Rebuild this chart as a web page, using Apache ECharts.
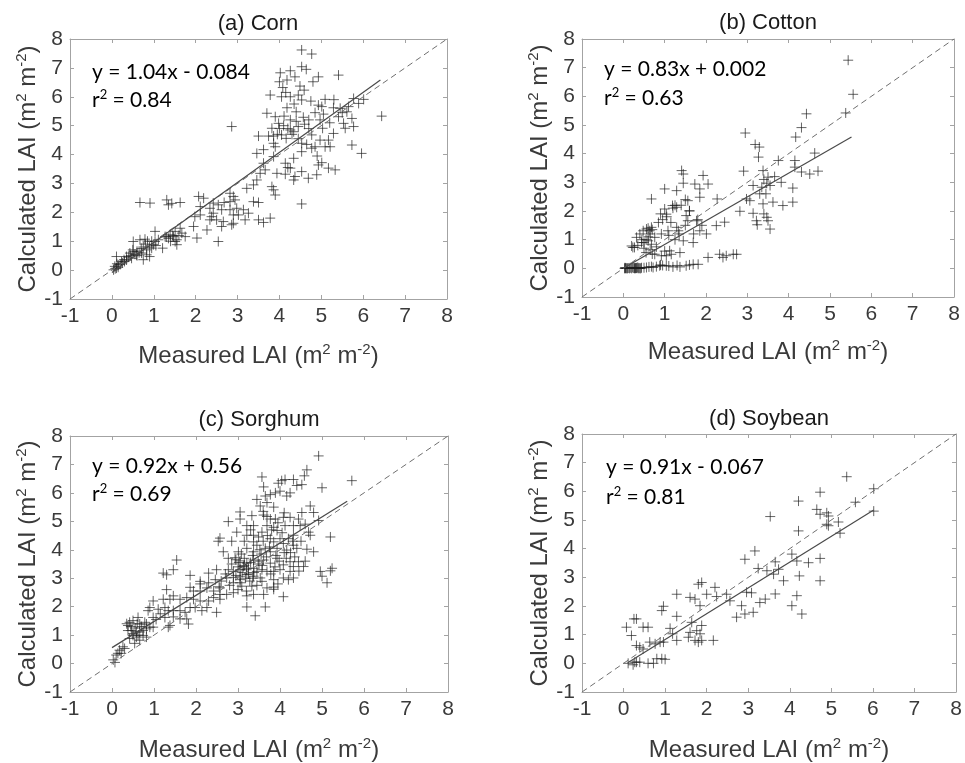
<!DOCTYPE html>
<html>
<head>
<meta charset="utf-8">
<script src="https://cdn.jsdelivr.net/npm/echarts/dist/echarts.min.js"></script>
<style>html,body{margin:0;padding:0;background:#fff;}#c{width:965px;height:763px;}</style>
</head>
<body>
<div id="c"></div>
<script>
// ---------- data ----------
const axisTicks = [-1, 0, 1, 2, 3, 4, 5, 6, 7, 8];
const panelTitles = ['(a) Corn', '(b) Cotton', '(c) Sorghum', '(d) Soybean'];
const equations = ['y = 1.04x - 0.084', 'y = 0.83x + 0.002', 'y = 0.92x + 0.56', 'y = 0.91x - 0.067'];
const rSquared = ['0.84', '0.63', '0.69', '0.81'];
const oneToOne = [[-1, -1], [8, 8]];

const cornPoints = [
[4.53,7.62],[4.77,7.48],[5.41,6.75],[4.02,6.83],[4.26,6.9],[4.53,7.04],[4.64,6.95],
[4.18,6.58],[4.0,6.52],[4.37,6.69],[4.93,6.69],[4.8,6.52],[4.08,6.32],[4.49,6.37],[4.59,6.23],
[3.78,6.06],[4.05,6.0],[4.26,6.0],[4.45,6.06],[4.53,5.89],[5.09,5.91],[5.77,5.94],[6.01,5.91],
[4.18,5.62],[4.93,5.71],[5.01,5.66],[5.29,5.62],[5.45,5.6],[5.65,5.66],[5.89,5.77],
[4.4,5.48],[4.57,5.29],[4.7,5.2],[3.9,5.31],[4.11,5.33],[4.26,5.2],[6.44,5.33],
[3.7,5.43],[3.98,5.08],[4.45,4.97],[2.86,4.97],[5.41,5.31],[5.61,5.48],[5.73,5.25],[5.77,4.97],
[4.97,5.2],[5.03,4.91],[3.82,4.91],[3.86,4.64],[4.05,4.68],[4.16,4.56],[4.26,4.85],[4.34,4.79],
[3.5,4.64],[3.74,4.64],[3.86,4.39],[3.9,4.27],[4.77,4.68],[4.97,4.5],[5.29,4.73],[5.17,4.5],[5.57,4.91],[5.53,5.08],
[4.53,4.39],[4.85,4.27],[5.09,4.27],[5.21,4.27],[3.46,4.04],[3.62,4.17],[3.86,3.93],[5.73,4.33],[5.96,4.04],
[4.53,4.1],[4.77,4.22],[4.14,3.7],[4.34,3.87],[3.62,3.7],[3.66,3.47],[4.93,3.64],[5.01,3.72],[5.17,3.53],[5.33,3.47],
[3.94,3.35],[4.14,3.32],[4.26,3.53],[4.34,3.12],[4.37,3.24],[4.53,3.41],[4.69,3.18],[4.89,3.3],
[3.46,3.12],[3.54,3.35],[3.38,2.95],[3.22,2.83],[3.82,2.89],[3.86,2.78],[3.9,2.6],
[2.82,2.66],[2.9,2.55],[2.94,2.43],[2.82,2.37],[2.68,2.34],[3.38,2.37],[3.5,2.34],[4.53,2.29],
[2.07,2.55],[2.19,2.49],[2.11,2.2],[2.42,2.32],[2.54,2.26],[2.34,2.14],[2.42,1.97],
[2.62,2.09],[2.82,2.09],[2.98,2.14],[3.14,2.09],[2.9,1.91],[3.02,1.91],[3.26,1.97],
[1.98,1.85],[2.11,1.91],[2.38,1.85],[2.34,1.74],[2.5,1.74],[2.66,1.68],[2.62,1.51],
[2.86,1.57],[2.9,1.62],[3.18,1.74],[3.5,1.74],[3.62,1.65],[3.78,1.8],
[1.95,1.51],[2.03,1.11],[2.27,1.39],[2.54,0.99],[1.63,1.45],[1.75,1.16],[1.67,1.28],
[1.31,2.43],[1.35,2.26],[1.43,2.31],[1.63,2.34],[0.67,2.34],[0.91,2.32],
[1.03,1.34],[1.27,1.16],[1.39,1.22],[1.47,1.16],[1.51,0.99],[1.55,0.88],[1.51,1.34],
[1.11,1.05],[1.21,0.76],[0.99,0.88],[1.03,0.99],[0.95,0.76],[0.83,0.7],
[0.51,0.99],[0.67,1.05],[0.79,1.07],[0.75,0.36],[0.71,0.59],[0.59,0.53],[0.43,0.59],[0.35,0.47],[0.47,0.41],[0.51,0.65],
[0.11,0.47],[0.23,0.3],[0.15,0.18],[0.07,0.13],[0.04,0.01],[0.11,0.07],[0.29,0.36],[0.83,0.53],[0.9,0.47],
[0.3,0.3],[0.4,0.45],[0.45,0.5],[0.55,0.55],[0.6,0.65],[0.65,0.6],[0.5,0.7],[0.35,0.35],[0.25,0.25],[0.2,0.2],[0.15,0.1],[0.08,0.05],[0.12,0.22],[0.6,0.5],[0.7,0.75],[0.75,0.8],[0.8,0.9],[0.9,0.8],[0.95,1.0],[1.05,0.85],[0.85,1.0],
[1.35,1.1],[1.45,1.2],[1.55,1.05],[1.4,1.0],[1.3,1.15],[1.6,1.2],
[4.1,5.0],[4.2,4.9],[4.3,4.7],[4.4,5.15],[4.6,5.05],[4.7,4.9],[4.85,5.45],[5.05,5.4],[5.2,5.1],[4.45,4.55],[4.65,4.35],[4.0,4.9],[3.95,4.7],[4.35,5.75],[4.75,5.85],[4.15,6.15],[5.3,5.9],[5.5,5.45],[4.9,3.95],[4.2,3.55]
];
const cornFit = [[0, -0.084], [6.41, 6.58]];

const cottonPoints = [
[5.44,7.26],[5.56,6.07],[5.38,5.42],[4.43,5.39],[4.31,4.91],[4.17,4.58],[2.95,4.72],
[3.19,4.32],[3.29,4.23],[3.27,3.88],[4.63,4.02],[4.15,3.76],[4.15,3.53],[4.31,3.36],[4.51,3.29],[4.71,3.39],
[3.75,3.76],[3.38,3.41],[3.5,3.18],[3.66,3.2],[3.82,3.0],[2.91,3.39],[3.14,2.89],[3.35,2.83],[3.47,2.97],[3.55,2.89],
[3.3,2.6],[3.38,2.25],[3.62,2.31],[3.86,2.19],[4.1,2.31],[4.1,2.8],[2.82,1.99],[3.14,1.92],[3.22,1.66],[3.24,1.52],[3.47,1.78],[3.5,1.66],[3.55,1.37],
[2.98,2.42],[3.06,2.36],[3.4,3.1],[3.45,2.6],[3.4,1.9],
[1.0,2.07],[1.04,1.89],[1.0,2.77],[1.29,2.71],[1.41,3.41],[1.45,3.29],[1.45,2.97],[1.29,2.13],[1.19,2.19],
[1.73,2.94],[1.85,2.77],[1.85,2.48],[1.93,3.24],[2.05,2.94],[0.68,2.42],[1.56,2.36],[1.6,2.01],[1.52,1.84],[1.56,1.66],
[2.27,2.42],[2.45,1.61],[2.25,1.49],[2.01,1.2],[1.77,1.66],[1.85,1.31],[1.69,0.9],[1.45,0.96],
[1.29,1.43],[1.33,1.31],[1.08,1.31],[0.92,1.2],[0.48,1.31],[0.56,1.37],[0.64,1.31],[0.68,1.43],[0.32,1.08],[0.44,0.9],[0.23,0.73],[0.6,0.96],[0.68,0.84],[0.76,1.08],
[0.76,0.49],[0.92,0.44],[1.04,0.44],[1.16,0.49],[1.12,0.61],[1.37,0.55],
[2.05,0.38],[2.33,0.49],[2.49,0.44],[2.66,0.49],[2.74,0.49],[2.41,0.38],
[0.05,0],[0.15,0],[0.27,0],[0.4,0],[0.56,0.03],[0.72,0.03],[0.88,0.09],[1.04,0.09],[1.2,0.05],[1.37,0.05],[1.52,0.09],[1.69,0.14],[1.81,0.14],
[0.03,0],[0.06,0.01],[0.1,0],[0.2,0],[0.25,0.01],[0.3,0],[0.33,0.02],[0.36,0],[0.44,0.02],[0.22,0.03],[0.5,0.02],[0.62,0.05],[0.8,0.06],[0.95,0.1],[1.1,0.08],[1.3,0.1],[1.6,0.12],[0.68,0.06],[0.9,0.12],
[0.04,0.02],[0.08,0],[0.12,0.01],[0.17,0.02],[0.28,0.02],[0.32,0.01],[0.35,0.03],[0.38,0.01],[0.42,0],[0.29,0.01],
[0.2,0.78],[0.27,0.73],[0.35,0.8],[0.5,0.9],[0.55,1.0],[0.6,1.1],[0.65,1.2],[0.7,1.35],[0.6,1.4],[0.65,0.65],[0.7,0.5],[0.55,0.55],[0.85,1.6],[0.95,1.7],[1.05,1.8],[0.9,1.9],[1.15,1.6],[1.2,2.1],[1.25,2.2],[1.35,1.2],[1.25,1.0],[1.1,1.15],[1.4,2.2],[1.5,2.4],[1.6,2.0],[1.8,1.7],[1.9,1.5],[1.7,1.2],[1.5,1.5],[1.0,0.6],[0.8,0.75],[0.4,1.2],[0.45,1.0],[0.5,0.7]
];
const cottonFit = [[0, 0.002], [5.52, 4.58]];

const sorghumPoints = [
[4.92,7.3],[5.71,6.43],[5.0,6.18],[3.57,6.56],[3.61,6.21],
[4.32,6.47],[4.4,6.26],[4.52,6.29],[4.58,6.6],[4.64,6.81],[4.04,6.43],[4.12,6.47],[3.96,6.34],
[3.77,5.94],[3.89,6.0],[4.0,6.06],[4.24,6.0],[4.16,5.89],[3.45,5.77],[3.65,5.89],[3.69,5.66],[3.53,5.54],
[4.72,5.54],[4.8,5.31],[4.52,5.31],
[3.05,5.33],[3.33,5.2],[3.61,5.22],[3.69,5.17],[3.77,5.08],[3.89,5.08],[4.08,5.14],[4.24,5.14],[4.44,5.08],[4.92,5.03],
[2.77,4.99],[3.05,5.08],[3.21,4.85],[3.37,4.85],
[2.57,4.41],[2.53,4.3],[2.85,4.3],[2.97,4.62],[3.21,4.51],[3.37,4.51],[3.49,4.45],[3.57,4.62],[3.69,4.85],[3.85,4.79],[3.93,4.68],
[4.12,4.85],[4.32,4.85],[4.48,4.85],[4.68,4.62],[4.72,4.51],[4.32,4.51],[4.2,4.39],[5.2,4.45],
[3.77,4.39],[3.85,4.28],[4.0,4.39],[4.08,4.22],[3.37,4.28],
[2.65,3.93],[2.93,3.72],[3.01,3.93],[3.21,4.05],[3.37,3.93],[3.45,4.16],[3.65,4.05],[3.77,3.93],[3.93,4.05],[4.16,3.99],[4.32,4.16],[4.4,4.05],[4.64,4.02],[4.8,3.93],
[2.77,3.7],[3.05,3.61],[3.21,3.53],[3.37,3.64],[3.61,3.64],[3.77,3.53],[3.93,3.7],[4.08,3.47],[4.24,3.58],[4.32,3.41],[4.44,3.58],[4.56,3.41],[4.24,3.24],
[2.49,3.3],[2.77,3.3],[2.89,3.24],[3.05,3.3],[3.13,3.41],[3.25,3.35],[3.37,3.35],[3.45,3.24],[3.57,3.3],[3.69,3.24],[3.85,3.24],[4.0,3.3],[4.08,3.01],
[4.96,3.24],[5.0,3.07],[5.2,3.26],[5.24,3.35],[5.12,2.84],
[2.73,3.01],[2.89,3.03],[3.05,3.07],[3.21,3.13],[3.37,3.07],[3.53,3.01],[3.85,2.95],[4.32,3.01],
[3.05,2.84],[3.09,2.72],[3.33,2.72],[3.57,2.89],[3.69,2.66],[3.85,2.61],[2.89,2.84],
[3.21,2.38],[3.37,2.43],[3.61,2.43],[3.85,2.69],[4.08,2.35],[3.65,1.99],[3.21,1.99],[3.41,1.68],
[2.3,3.18],[2.46,2.95],[2.3,2.84],[2.1,2.89],[1.86,3.1],[2.1,2.8],
[1.54,3.64],[1.46,3.3],[1.22,3.18],[1.3,3.12],
[1.86,2.68],[1.94,2.55],[2.1,2.55],[2.26,2.66],[2.42,2.55],[2.57,2.66],[2.57,2.43],[2.73,2.43],[2.89,2.49],
[1.3,2.6],[1.46,2.38],[1.38,2.26],
[1.62,2.26],[1.78,2.32],[1.94,2.26],[2.1,2.2],[2.3,2.2],[2.42,2.32],[2.57,2.26],[2.49,1.8],[2.26,1.97],[2.14,1.86],[1.98,1.97],[1.86,1.97],[1.82,1.39],
[0.98,2.2],[1.22,2.26],[1.26,1.97],[1.1,1.91],[0.9,1.97],[0.86,1.86],
[1.34,1.86],[1.46,1.86],[1.62,1.86],[1.74,1.8],[1.26,1.62],[1.46,1.64],[1.62,1.57],[1.78,1.57],[1.38,1.34],[1.34,1.28],
[0.98,1.62],[0.82,1.39],[0.66,1.39],[0.62,1.62],[0.5,1.51],[0.42,1.45],[0.38,1.34],[0.38,1.16],[0.46,1.16],[0.58,1.11],[0.66,1.11],[0.74,1.16],[0.82,1.22],[0.9,1.28],[0.98,1.28],
[0.5,0.99],[0.58,0.93],[0.66,0.82],[0.54,0.71],[0.42,0.88],[0.74,0.99],[0.82,0.93],
[0.26,0.59],[0.18,0.47],[0.14,0.36],[0.1,0.3],[0.22,0.36],[0.3,0.53],[0.03,0.13],[0.07,0.04],
[0.45,1.3],[0.55,1.25],[0.6,1.4],[0.7,1.3],[0.5,1.05],[0.62,1.0],[0.35,1.4],[0.78,1.45],[1.05,1.55],[1.15,1.75],
[3.1,3.2],[3.15,3.45],[3.2,3.3],[3.25,3.15],[3.0,3.4],[3.3,3.55],[3.05,2.95],[2.95,3.1],[3.35,3.0],[3.5,3.5],[3.9,3.8],[4.1,3.9],[4.3,4.3],[3.75,4.1],[4.05,4.6],[3.55,3.85],[3.15,3.7],
[2.85,3.5],[2.95,3.65],[3.08,3.85],[3.18,3.0],[3.28,2.9],[3.38,3.2],[3.48,3.6],[3.58,3.45],[3.68,3.75],[3.78,3.15],[3.88,3.4],[3.98,3.6],[4.15,3.7],[4.25,3.9],[4.35,3.75],[3.6,4.3],[3.7,4.5],[3.8,4.7],[3.95,4.95],[4.1,5.3],[3.85,5.5],[3.6,5.35],[3.3,4.7],[3.15,4.3],[2.8,2.75],[2.6,2.9],[3.0,2.6],[3.2,2.55],[3.45,2.75],[3.95,2.8],[4.2,2.95],[4.45,3.25],[4.6,3.6],[4.5,4.3],[4.6,4.9],[3.35,3.8],[3.52,4.0],[3.02,3.55],[2.7,3.15],[2.55,2.7]
];
const sorghumFit = [[0, 0.56], [5.6, 5.71]];

const soybeanPoints = [
[5.37,6.51],[4.73,5.97],[4.21,5.66],[6.02,6.09],[5.58,5.62],[3.53,5.12],
[4.65,5.37],[4.73,5.2],[4.89,5.25],[4.93,5.14],[4.89,4.85],[5.17,4.93],[5.21,4.54],[6.02,5.31],[4.93,4.8],
[4.21,4.62],[4.05,3.81],[4.17,3.57],[4.45,3.51],[4.73,3.66],[4.73,2.88],[4.23,3.05],
[3.16,3.92],[2.92,3.63],[3.24,3.31],[3.45,3.23],[3.65,3.54],[3.73,3.28],[3.61,3.11],[3.85,2.88],[3.65,2.42],[3.41,2.24],[3.28,2.12],
[2.96,2.48],[3.08,2.46],[2.84,2.01],[2.92,1.72],[3.12,1.78],[2.72,1.61],[4.05,2.01],[4.17,2.36],[4.29,1.72],
[2.48,2.41],[2.56,2.18],[2.2,2.65],[2.24,2.33],[2.0,2.41],[1.88,2.82],[1.8,2.76],[1.84,2.01],[1.6,2.3],[1.72,2.24],[1.28,2.41],
[0.92,1.84],[0.96,1.99],[1.28,1.64],
[1.12,1.22],[1.18,1.03],[1.28,0.8],[1.56,0.91],[1.64,1.43],[1.76,1.14],[1.84,1.03],[1.88,1.32],[1.72,0.8],[1.88,0.8],[2.16,0.8],[1.6,1.08],[1.8,0.74],
[0.07,1.26],[0.19,0.97],[0.25,1.55],[0.31,1.55],[0.47,1.26],[0.59,1.26],[0.31,0.62],[0.39,0.56],[0.47,0.5],
[0.63,0.74],[0.76,0.68],[0.88,0.74],[0.96,0.74],
[0.11,0],[0.23,-0.05],[0.31,0.04],[0.39,0.04],[0.59,0],[0.72,0],[0.8,0.16],[0.92,0.16],[1.0,0.14],[0.27,0.04]
];
const soybeanFit = [[0.1, 0.02], [6.02, 5.35]];

const panelPoints = [cornPoints, cottonPoints, sorghumPoints, soybeanPoints];
const panelFits = [cornFit, cottonFit, sorghumFit, soybeanFit];

// ---------- layout ----------
const layouts = [
  {grid: {left: 70, top: 39, width: 377, height: 260}, title: [258, 24], eq: [92, 72, 100], xGap: 43, yGap: 27},
  {grid: {left: 582, top: 39, width: 372, height: 258}, title: [768, 23], eq: [604, 69, 98], xGap: 41, yGap: 25},
  {grid: {left: 70, top: 436, width: 378, height: 260}, title: [259, 420], eq: [92, 466, 494], xGap: 44, yGap: 26},
  {grid: {left: 582, top: 434, width: 374, height: 259}, title: [769, 419], eq: [606, 467, 497], xGap: 44, yGap: 25}
];

const boxColor = '#a3a3a3';
const labelColor = '#3a3a3a';
const tickFont = 'Liberation Sans, Arial, sans-serif';
const eqFont = 'Lato, "Open Sans", sans-serif';

const nameRich = {
  a: {fontSize: 24, fontFamily: tickFont, color: labelColor, lineHeight: 28},
  s: {fontSize: 15, fontFamily: tickFont, color: labelColor, verticalAlign: 'top', lineHeight: 15}
};
const xName = '{a|Measured LAI (m}{s|2}{a| m}{s|-2}{a|)}';
const yName = '{a|Calculated LAI (m}{s|2}{a| m}{s|-2}{a|)}';

const plusSymbol = 'path://M5,0L5,10M0,5L10,5';

const option = {
  animation: false,
  backgroundColor: '#fff',
  grid: [], xAxis: [], yAxis: [], series: [], graphic: []
};

function baseAxis(gridIndex, pos, showLabel) {
  return {
    type: 'value', gridIndex: gridIndex, position: pos,
    min: axisTicks[0], max: axisTicks[axisTicks.length - 1], interval: 1,
    axisLine: {show: true, onZero: false, lineStyle: {color: boxColor, width: 1}},
    axisTick: {show: true, inside: true, length: 4, lineStyle: {color: boxColor, width: 1}},
    axisLabel: {show: showLabel, color: labelColor, fontSize: 21, fontFamily: tickFont, margin: 7},
    splitLine: {show: false}
  };
}

layouts.forEach(function (L, i) {
  option.grid.push(Object.assign({containLabel: false}, L.grid));
  const xb = baseAxis(i, 'bottom', true);
  xb.name = xName; xb.nameLocation = 'middle'; xb.nameGap = L.xGap;
  xb.nameTextStyle = {rich: nameRich};
  const xt = baseAxis(i, 'top', false);
  const yl = baseAxis(i, 'left', true);
  yl.name = yName; yl.nameLocation = 'middle'; yl.nameGap = L.yGap;
  yl.nameTextStyle = {rich: nameRich};
  const yr = baseAxis(i, 'right', false);
  option.xAxis.push(xb, xt);
  option.yAxis.push(yl, yr);
  const xi = i * 2, yi = i * 2;
  option.series.push({
    type: 'scatter', xAxisIndex: xi, yAxisIndex: yi, data: panelPoints[i],
    symbol: plusSymbol, symbolSize: 10, silent: true,
    itemStyle: {color: 'rgba(0,0,0,0)', borderColor: 'rgba(30,30,30,0.85)', borderWidth: 1}
  });
  option.series.push({
    type: 'line', xAxisIndex: xi, yAxisIndex: yi, data: oneToOne, symbol: 'none', silent: true,
    lineStyle: {color: '#6f6f6f', width: 1, type: [6, 4]}
  });
  option.series.push({
    type: 'line', xAxisIndex: xi, yAxisIndex: yi, data: panelFits[i], symbol: 'none', silent: true,
    lineStyle: {color: '#4a4a4a', width: 1.2}
  });
  option.graphic.push({
    type: 'text', x: L.title[0], y: L.title[1], silent: true,
    style: {text: panelTitles[i], fill: '#1a1a1a', font: '22px ' + tickFont, textAlign: 'center', textVerticalAlign: 'middle'}
  });
  option.graphic.push({
    type: 'text', x: L.eq[0], y: L.eq[1], silent: true,
    style: {text: equations[i], fill: '#000', font: '21px ' + eqFont, textAlign: 'left', textVerticalAlign: 'middle'}
  });
  option.graphic.push({
    type: 'text', x: L.eq[0], y: L.eq[2], silent: true,
    style: {
      text: '{r|r}{s|2}{r| = ' + rSquared[i] + '}', textAlign: 'left', textVerticalAlign: 'middle',
      rich: {
        r: {fontSize: 21, fontFamily: eqFont, fill: '#000', lineHeight: 24},
        s: {fontSize: 13, fontFamily: eqFont, fill: '#000', verticalAlign: 'top', lineHeight: 13}
      }
    }
  });
});

const chart = echarts.init(document.getElementById('c'), null, {renderer: 'canvas'});
chart.setOption(option);
</script>
</body>
</html>
